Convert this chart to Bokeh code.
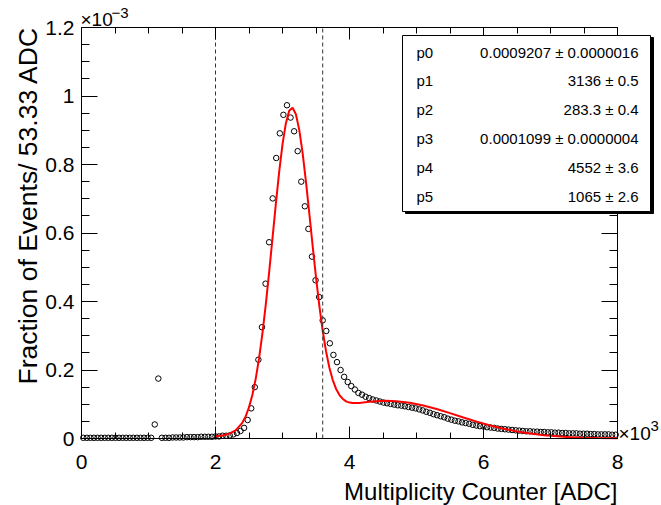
import math
from bokeh.plotting import figure
from bokeh.models import Range1d, LinearAxis, FixedTicker, BoxAnnotation, Label
from bokeh.embed import file_html
from bokeh.resources import INLINE

# ---------------- data ----------------
bin_width = 8000.0 / 150  # 53.33 ADC per bin

# fraction of events per bin, in units of 1e-3
frac_e3 = [
    # bins 0-19
    0.002, 0.002, 0.002, 0.002, 0.002, 0.002, 0.002, 0.002, 0.002, 0.002,
    0.002, 0.002, 0.002, 0.002, 0.002, 0.002, 0.002, 0.002, 0.002, 0.002,
    # bins 20-21
    0.041, 0.175,
    # bins 22-36
    0.002, 0.002, 0.002, 0.003, 0.003, 0.003, 0.003, 0.004, 0.004, 0.004,
    0.004, 0.005, 0.005, 0.005, 0.005,
    # bins 37-83
    0.006, 0.006, 0.008, 0.008, 0.009, 0.012, 0.016, 0.022, 0.031, 0.054,
    0.088, 0.150, 0.230, 0.325, 0.452, 0.573, 0.701, 0.819, 0.891, 0.945,
    0.973, 0.937, 0.897, 0.839, 0.750, 0.678, 0.612, 0.531, 0.462, 0.413,
    0.345, 0.314, 0.278, 0.244, 0.223, 0.200, 0.180, 0.165, 0.153, 0.143,
    0.133, 0.128, 0.122, 0.118, 0.114, 0.111, 0.108,
    # bins 84-149
    0.105, 0.103, 0.101, 0.099, 0.097, 0.096, 0.094, 0.092, 0.090, 0.088,
    0.085, 0.082, 0.078, 0.075, 0.071, 0.068, 0.065, 0.062, 0.058, 0.055,
    0.052, 0.050, 0.047, 0.045, 0.043, 0.040, 0.038, 0.036, 0.035, 0.033,
    0.032, 0.031, 0.029, 0.028, 0.027, 0.026, 0.025, 0.024, 0.023, 0.022,
    0.021, 0.021, 0.020, 0.020, 0.019, 0.019, 0.018, 0.018, 0.017, 0.017,
    0.016, 0.016, 0.015, 0.015, 0.015, 0.014, 0.014, 0.014, 0.013, 0.013,
    0.012, 0.012, 0.012, 0.012, 0.011, 0.011,
]
bin_centers = [(i + 0.5) * bin_width for i in range(len(frac_e3))]

# fitted curve (red), units of 1e-3
fit_x = [2000, 2100, 2200, 2300, 2400, 2450, 2500, 2550, 2600, 2650, 2700, 2750,
         2800, 2850, 2900, 2950, 3000, 3050, 3100, 3150, 3200, 3250, 3300, 3350,
         3400, 3450, 3500, 3550, 3600, 3650, 3700, 3750, 3800, 3850, 3900, 3950,
         4000, 4050, 4100, 4150, 4200, 4300, 4400, 4550, 4700, 4900, 5100, 5300,
         5500, 5700, 5900, 6100, 6300, 6500, 6700, 6900, 7100, 7300, 7500, 7700,
         8000]
fit_y = [0.0065, 0.0089, 0.0135, 0.0236, 0.0458, 0.0647, 0.0913, 0.1272, 0.1742,
         0.2337, 0.3059, 0.3903, 0.4841, 0.5838, 0.6838, 0.7776, 0.8585, 0.9200,
         0.9567, 0.9658, 0.9466, 0.9012, 0.8337, 0.7503, 0.6576, 0.5625, 0.4708,
         0.3871, 0.3145, 0.2543, 0.2067, 0.1707, 0.1447, 0.1269, 0.1154, 0.1085,
         0.1049, 0.1034, 0.1033, 0.1039, 0.1049, 0.1071, 0.1088, 0.1099, 0.1088,
         0.1042, 0.0963, 0.0859, 0.0740, 0.0615, 0.0493, 0.0382, 0.0286, 0.0206,
         0.0144, 0.0097, 0.0063, 0.0039, 0.0024, 0.0014, 0.0006]

cut_lines = [2000, 3600]

param_names = ["p0", "p1", "p2", "p3", "p4", "p5"]
param_values = ["0.0009207 \u00b1 0.0000016", "3136 \u00b1 0.5", "283.3 \u00b1 0.4",
                "0.0001099 \u00b1 0.0000004", "4552 \u00b1 3.6", "1065 \u00b1 2.6"]

x_ticks = [0, 2000, 4000, 6000, 8000]
x_tick_labels = ["0", "2", "4", "6", "8"]
y_ticks = [0, 0.2, 0.4, 0.6, 0.8, 1.0, 1.2]
y_tick_labels = ["0", "0.2", "0.4", "0.6", "0.8", "1", "1.2"]

x_title = "Multiplicity Counter [ADC]"
y_title = "Fraction of Events/ 53.33 ADC"

# ---------------- layout ----------------
W, H = 661, 505
L, R, T, B = 81, 44, 27, 67          # pixel margins of the axes box
XMIN, XMAX, YMIN, YMAX = 0, 8000, 0, 1.2
FW, FH = W - L - R, H - T - B
FONT = "Liberation Sans"
BASE_SHIFT = 6  # compensation for label baseline placement

def dx(px):
    return XMIN + (px - L) / FW * (XMAX - XMIN)

def dy(py):
    return YMIN + (H - B - py) / FH * (YMAX - YMIN)

# the drawing frame is the whole canvas; the axes box is drawn with fixed-location axes
p = figure(width=W, height=H, x_range=Range1d(dx(0), dx(W)), y_range=Range1d(dy(H), dy(0)),
           output_backend="svg", toolbar_location=None,
           x_axis_location=None, y_axis_location=None,
           min_border=0, min_border_left=0, min_border_right=0,
           min_border_top=0, min_border_bottom=0,
           outline_line_color=None, background_fill_color="white", border_fill_color="white")
p.xgrid.visible = False
p.ygrid.visible = False

x_minor = list(range(0, 8001, 500))
y_minor = [round(0.05 * i, 2) for i in range(25)]

def make_axis(loc, bounds, major, minor, ticks, minors, labels, show_labels, standoff=0):
    ax = LinearAxis(fixed_location=loc, bounds=bounds)
    ax.ticker = FixedTicker(ticks=ticks, minor_ticks=minors)
    ax.axis_line_color = "black"
    ax.axis_line_width = 1
    ax.major_tick_in = major
    ax.major_tick_out = 0
    ax.minor_tick_in = minor
    ax.minor_tick_out = 0
    ax.major_tick_line_color = "black"
    ax.minor_tick_line_color = "black"
    ax.major_tick_line_width = 1
    ax.minor_tick_line_width = 1
    if show_labels:
        ax.major_label_overrides = {t: s for t, s in zip(ticks, labels)}
        ax.major_label_text_font = FONT
        ax.major_label_text_font_size = "21px"
        ax.major_label_text_color = "black"
        ax.major_label_standoff = standoff
    else:
        ax.major_label_overrides = {t: "" for t in ticks}
        ax.major_label_text_font_size = "0px"
        ax.major_label_standoff = 0
    return ax

# data markers and fit
p.scatter(bin_centers, frac_e3, marker="circle", size=5.5, fill_color=None,
          line_color="black", line_width=1)
p.line(fit_x, fit_y, line_color="#ff0000", line_width=2)

for c in cut_lines:
    p.segment(x0=[c], y0=[YMIN], x1=[c], y1=[YMAX], line_color="#333333",
              line_dash="4 3", line_width=1)

p.add_layout(make_axis(YMIN, (XMIN, XMAX), 12, 6, x_ticks, x_minor, x_tick_labels, True, 16), "below")
p.add_layout(make_axis(XMIN, (YMIN, YMAX), 16, 8, y_ticks, y_minor, y_tick_labels, True, 7), "left")
p.add_layout(make_axis(YMAX, (XMIN, XMAX), 12, 6, x_ticks, x_minor, x_tick_labels, False), "above")
p.add_layout(make_axis(XMAX, (YMIN, YMAX), 16, 8, y_ticks, y_minor, y_tick_labels, False), "right")

# stats box with shadow
p.add_layout(BoxAnnotation(left=dx(405), right=dx(653), top=dy(37), bottom=dy(213),
                           fill_color="black", fill_alpha=1, line_color="black", line_alpha=1))
p.add_layout(BoxAnnotation(left=dx(402), right=dx(650), top=dy(35), bottom=dy(211),
                           fill_color="white", fill_alpha=1, line_color="black", line_width=1,
                           line_alpha=1))
row_y0, row_step = 51.5, 28.9
for k, (nm, vl) in enumerate(zip(param_names, param_values)):
    yy = dy(row_y0 + k * row_step)
    p.add_layout(Label(x=dx(416), y=yy, text=nm, text_font=FONT, text_font_size="15px",
                       text_align="left", text_baseline="middle", text_color="black"))
    p.add_layout(Label(x=dx(638), y=yy, text=vl, text_font=FONT, text_font_size="15px",
                       text_align="right", text_baseline="middle", text_color="black"))

# axis titles
p.add_layout(Label(x=dx(617), y=dy(497 - BASE_SHIFT), text=x_title, text_font=FONT,
                   text_font_size="24px", text_align="right", text_baseline="alphabetic",
                   text_color="black"))
p.add_layout(Label(x=dx(27), y=dy(26), text=y_title, text_font=FONT, text_font_size="26.5px",
                   text_align="right", text_baseline="middle", angle=math.pi / 2,
                   text_color="black"))

# exponent labels
p.add_layout(Label(x=dx(80), y=dy(25 - BASE_SHIFT), text="\u00d710", text_font=FONT,
                   text_font_size="19px", text_align="left", text_baseline="alphabetic",
                   text_color="black"))
p.add_layout(Label(x=dx(111), y=dy(18 - BASE_SHIFT), text="\u22123", text_font=FONT,
                   text_font_size="15px", text_align="left", text_baseline="alphabetic",
                   text_color="black"))
p.add_layout(Label(x=dx(618), y=dy(439 - BASE_SHIFT), text="\u00d710", text_font=FONT,
                   text_font_size="19px", text_align="left", text_baseline="alphabetic",
                   text_color="black"))
p.add_layout(Label(x=dx(650), y=dy(431 - BASE_SHIFT), text="3", text_font=FONT,
                   text_font_size="15px", text_align="left", text_baseline="alphabetic",
                   text_color="black"))

open("out.html", "w").write(file_html(p, INLINE))
